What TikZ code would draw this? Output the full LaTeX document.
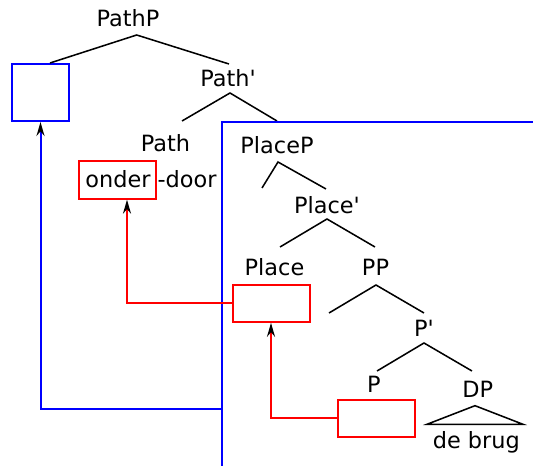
\documentclass[tikz,border=0pt]{standalone}
\usepackage{fontspec}
\setmainfont{DejaVu Sans}[Ligatures=TeXOff]
\usetikzlibrary{arrows.meta}
\begin{document}
\begin{tikzpicture}[x=0.75pt,y=-0.75pt,
  lbl/.style={inner sep=0pt,anchor=base,font=\fontsize{16.8}{20}\selectfont},
  br/.style={line width=1.15pt,black},
  bl/.style={line width=1.5pt,blue},
  rd/.style={line width=1.5pt,red},
  arrowtip/.style={-{Stealth[length=10.5pt,width=6pt,inset=3.5pt,color=black]}}]
\useasboundingbox (0,0) rectangle (533,466);
% tree labels
\node[lbl] (pathp) at (128,27) {PathP};
\node[lbl] (pathbar) at (228,87) {Path'};
\node[lbl] (path) at (165.5,151.7) {Path};
\node[lbl] (placep) at (277,154) {PlaceP};
\node[lbl] (placebar) at (327,214) {Place'};
\node[lbl] (place) at (274.5,276) {Place};
\node[lbl] (pp) at (375.5,276) {PP};
\node[lbl] (pbar) at (424,337) {P'};
\node[lbl] (p) at (374,393) {P};
\node[lbl] (dp) at (477.7,398) {DP};
\node[lbl] (debrug) at (476.3,449) {de brug};
\node[lbl] (onder) at (118,188) {onder};
\node[lbl] (door) at (187,188) {-door};
% boxes
\node[draw=blue,line width=1.5pt,minimum width=42.75pt,minimum height=42.75pt,inner sep=0pt] (spec) at (40.5,92.5) {};
\node[draw=red,line width=1.5pt,minimum width=57.5pt,minimum height=28.5pt,inner sep=0pt] (ondbox) at (117.5,179.7) {};
\node[draw=red,line width=1.5pt,minimum width=57.75pt,minimum height=27.5pt,inner sep=0pt] (placebox) at (271,303.5) {};
\node[draw=red,line width=1.5pt,minimum width=57.75pt,minimum height=27.75pt,inner sep=0pt] (pbox) at (376.7,418.5) {};
% coordinates for branches
\coordinate (a1) at (136.7,35); \coordinate (a2) at (50,63); \coordinate (a3) at (229,64);
\coordinate (b1) at (230,93); \coordinate (b2) at (182,121); \coordinate (b3) at (277,121);
\coordinate (c1) at (278,162); \coordinate (c2) at (262,188); \coordinate (c3) at (326,189);
\coordinate (d1) at (327,219); \coordinate (d2) at (280,247); \coordinate (d3) at (375,247);
\coordinate (e1) at (376,285); \coordinate (e2) at (329,313); \coordinate (e3) at (424,313);
\coordinate (f1) at (424,343); \coordinate (f2) at (377,371); \coordinate (f3) at (472,371);
\coordinate (t1) at (475,405.7); \coordinate (t2) at (427,424.3); \coordinate (t3) at (523,424.3);
\draw[br] (a2) -- (a1) -- (a3);
\draw[br] (b2) -- (b1) -- (b3);
\draw[br] (c2) -- (c1) -- (c3);
\draw[br] (d2) -- (d1) -- (d3);
\draw[br] (e2) -- (e1) -- (e3);
\draw[br] (f2) -- (f1) -- (f3);
\draw[br] (t1) -- (t2) -- (t3) -- cycle;
% blue bracket
\coordinate (v1) at (222,466); \coordinate (v2) at (222,122); \coordinate (v3) at (533,122);
\coordinate (v4) at (222,409.5);
\draw[bl] (v1) -- (v2) -- (v3);
\draw[bl,arrowtip] (v4) -| (spec.south);
% red movement arrows
\draw[rd,arrowtip] (placebox.west) -| (ondbox.south -| 127,0);
\draw[rd,arrowtip] (pbox.west) -| (placebox.south);
\end{tikzpicture}
\end{document}
